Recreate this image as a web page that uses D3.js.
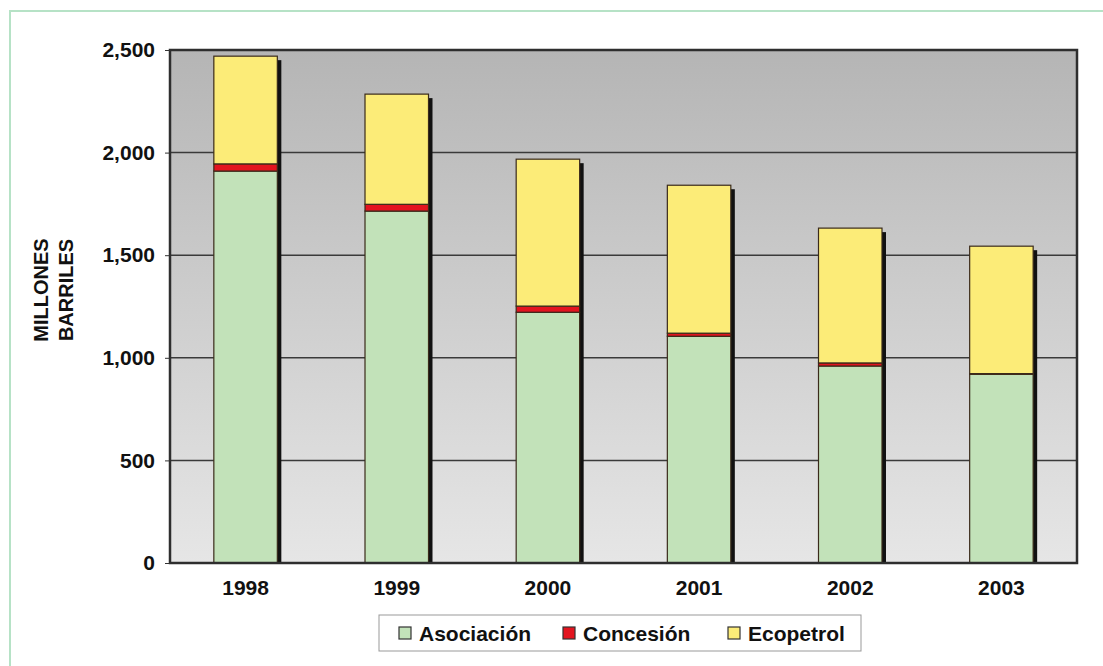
<!DOCTYPE html>
<html><head><meta charset="utf-8">
<script src="https://cdn.jsdelivr.net/npm/d3@7"></script>
<style>html,body{margin:0;padding:0;background:#fff}svg{display:block}</style>
</head><body><svg id="c" width="1103" height="666"></svg>
<script>
const years = ["1998","1999","2000","2001","2002","2003"];
const asociacion = [1910, 1715, 1222, 1105, 960, 920];
const concesion = [35, 33, 30, 15, 15, 3];
const ecopetrol = [525, 537, 716, 721, 657, 621];
const seriesNames = ["Asociación","Concesión","Ecopetrol"];
const seriesColors = ["#c2e2b9","#e3141f","#fcec78"];
const yTicks = [0,500,1000,1500,2000,2500];

const FONT = "Liberation Sans, Arial, sans-serif";
const svg = d3.select("#c");
const m = {l:170, r:1077, t:50, b:563};
const x = d3.scaleBand().domain(years).range([m.l, m.r]).paddingInner(0.58).paddingOuter(0.29);
const y = d3.scaleLinear().domain([0,2500]).range([m.b, m.t]);

// outer frame
svg.append("rect").attr("x",10).attr("y",11).attr("width",1100).attr("height",670)
  .attr("fill","none").attr("stroke","#b6e2c6").attr("stroke-width",2);

const defs = svg.append("defs");
const g = defs.append("linearGradient").attr("id","bg").attr("x1",0).attr("y1",0).attr("x2",0).attr("y2",1);
g.append("stop").attr("offset","0%").attr("stop-color","#b5b5b5");
g.append("stop").attr("offset","100%").attr("stop-color","#e6e6e6");
defs.append("clipPath").attr("id","plotclip").append("rect")
  .attr("x",m.l).attr("y",m.t).attr("width",m.r-m.l).attr("height",m.b-m.t);

svg.append("rect").attr("x",m.l).attr("y",m.t).attr("width",m.r-m.l).attr("height",m.b-m.t).attr("fill","url(#bg)");

// gridlines
svg.append("g").selectAll("line").data(yTicks.filter(d=>d>0)).join("line")
  .attr("x1",m.l).attr("x2",m.r).attr("y1",d=>y(d)).attr("y2",d=>y(d))
  .attr("stroke","#3a3a3a").attr("stroke-width",1.5);

// stacked data
const data = years.map((yr,i)=>({year:yr, "Asociación":asociacion[i], "Concesión":concesion[i], "Ecopetrol":ecopetrol[i]}));
const stack = d3.stack().keys(seriesNames)(data);
const total = d => d["Asociación"]+d["Concesión"]+d["Ecopetrol"];

// shadows
svg.append("g").attr("clip-path","url(#plotclip)").selectAll("rect").data(data).join("rect")
  .attr("x",d=>x(d.year)+4).attr("width",x.bandwidth())
  .attr("y",d=>y(total(d))+4)
  .attr("height",d=>y(0)-y(total(d)))
  .attr("fill","#111");

stack.forEach((s,si)=>{
  svg.append("g").selectAll("rect").data(s).join("rect")
    .attr("x",d=>x(d.data.year)).attr("width",x.bandwidth())
    .attr("y",d=>y(d[1])).attr("height",d=>Math.max(0,y(d[0])-y(d[1])))
    .attr("fill",seriesColors[si]).attr("stroke","#3a2a1a").attr("stroke-width",1.2);
});

// plot border
svg.append("rect").attr("x",m.l).attr("y",m.t).attr("width",m.r-m.l).attr("height",m.b-m.t)
  .attr("fill","none").attr("stroke","#2e2e2e").attr("stroke-width",2.5);

// y axis
const ya = svg.append("g").attr("transform",`translate(${m.l},0)`)
  .call(d3.axisLeft(y).tickValues(yTicks).tickFormat(d3.format(",")).tickSize(5).tickPadding(10));
ya.select(".domain").remove();
ya.selectAll("line").attr("stroke","#333");
ya.selectAll("text").attr("font-family",FONT).attr("font-weight","bold").attr("font-size",21).attr("fill","#111");

// x axis
const xa = svg.append("g").attr("transform",`translate(0,${m.b})`)
  .call(d3.axisBottom(x).tickSize(0).tickPadding(17));
xa.select(".domain").remove();
xa.selectAll("text").attr("font-family",FONT).attr("font-weight","bold").attr("font-size",21).attr("fill","#111");

// y title
const yt = svg.append("text").attr("transform","translate(52,290) rotate(-90)")
  .attr("text-anchor","middle").attr("font-family",FONT)
  .attr("font-weight","bold").attr("font-size",20).attr("fill","#111");
yt.append("tspan").attr("x",0).attr("dy",-4).text("MILLONES");
yt.append("tspan").attr("x",0).attr("dy",25).text("BARRILES");

// legend
const lg = svg.append("g");
lg.append("rect").attr("x",379).attr("y",615).attr("width",482).attr("height",36)
  .attr("fill","#fff").attr("stroke","#999").attr("stroke-width",1);
const lx = [399, 563, 728];
seriesNames.forEach((n,i)=>{
  lg.append("rect").attr("x",lx[i]).attr("y",627).attr("width",12).attr("height",12)
    .attr("fill",seriesColors[i]).attr("stroke","#333").attr("stroke-width",1.2);
  lg.append("text").attr("x",lx[i]+20).attr("y",641).text(n)
    .attr("font-family",FONT).attr("font-weight","bold").attr("font-size",21).attr("fill","#111");
});
</script></body></html>
